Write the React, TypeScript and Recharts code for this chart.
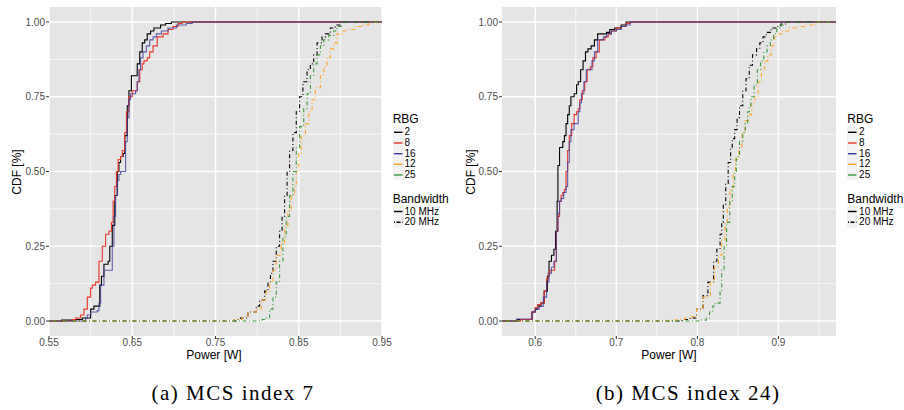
import React from "react";
import { LineChart, Line, XAxis, YAxis, CartesianGrid } from "recharts";

type Pt = [number, number];

// ---- (a) MCS index 7 : ECDF steps [power W, cdf] ----
const mcs7Rbg2_10: Pt[] = [
  [0.55, 0], [0.565, 0.003], [0.58, 0.005], [0.59, 0.01], [0.6, 0.04], [0.604, 0.05],
  [0.611, 0.12], [0.613, 0.15], [0.616, 0.19], [0.621, 0.2], [0.623, 0.25], [0.626, 0.32],
  [0.629, 0.42], [0.632, 0.5], [0.634, 0.53], [0.636, 0.55], [0.639, 0.56], [0.641, 0.62],
  [0.644, 0.72], [0.646, 0.77], [0.649, 0.82], [0.656, 0.86], [0.659, 0.9], [0.662, 0.93],
  [0.665, 0.94], [0.668, 0.96], [0.672, 0.97], [0.676, 0.98], [0.684, 0.99], [0.69, 0.995],
  [0.697, 1], [0.95, 1],
];
const mcs7Rbg8_10: Pt[] = [
  [0.55, 0], [0.578, 0.005], [0.582, 0.01], [0.588, 0.02], [0.592, 0.04], [0.596, 0.08],
  [0.6, 0.11], [0.602, 0.12], [0.606, 0.13], [0.61, 0.2], [0.614, 0.25], [0.618, 0.29],
  [0.622, 0.3], [0.625, 0.33], [0.627, 0.4], [0.629, 0.45], [0.631, 0.5], [0.633, 0.54],
  [0.636, 0.55], [0.638, 0.57], [0.641, 0.63], [0.643, 0.7], [0.646, 0.75], [0.65, 0.77],
  [0.656, 0.8], [0.659, 0.84], [0.662, 0.86], [0.664, 0.87], [0.668, 0.88], [0.671, 0.9],
  [0.675, 0.92], [0.68, 0.95], [0.687, 0.96], [0.693, 0.975], [0.699, 0.985], [0.705, 0.995],
  [0.71, 1], [0.95, 1],
];
const mcs7Rbg16_10: Pt[] = [
  [0.55, 0], [0.594, 0.01], [0.596, 0.02], [0.6, 0.03], [0.608, 0.035], [0.61, 0.06],
  [0.612, 0.12], [0.616, 0.17], [0.626, 0.25], [0.628, 0.35], [0.63, 0.42], [0.632, 0.47],
  [0.634, 0.49], [0.636, 0.5], [0.642, 0.6], [0.644, 0.68], [0.646, 0.74], [0.648, 0.76],
  [0.654, 0.77], [0.656, 0.8], [0.658, 0.84], [0.66, 0.88], [0.663, 0.9], [0.667, 0.92],
  [0.671, 0.94], [0.675, 0.95], [0.679, 0.96], [0.685, 0.97], [0.693, 0.98], [0.703, 0.99],
  [0.715, 0.995], [0.722, 1], [0.95, 1],
];
const mcs7Rbg2_20: Pt[] = [
  [0.55, 0], [0.776, 0.005], [0.78, 0.01], [0.789, 0.03], [0.799, 0.05], [0.803, 0.07],
  [0.809, 0.1], [0.813, 0.13], [0.816, 0.16], [0.819, 0.2], [0.823, 0.25], [0.827, 0.3],
  [0.83, 0.35], [0.833, 0.42], [0.836, 0.5], [0.839, 0.57], [0.843, 0.63], [0.847, 0.7],
  [0.851, 0.75], [0.855, 0.8], [0.86, 0.84], [0.864, 0.86], [0.868, 0.89], [0.872, 0.93],
  [0.878, 0.95], [0.882, 0.96], [0.888, 0.98], [0.894, 0.99], [0.9, 1], [0.95, 1],
];
const mcs7Rbg12_20: Pt[] = [
  [0.55, 0], [0.772, 0.005], [0.782, 0.015], [0.789, 0.03], [0.799, 0.04], [0.805, 0.07],
  [0.811, 0.1], [0.815, 0.13], [0.819, 0.17], [0.823, 0.22], [0.829, 0.26], [0.833, 0.32],
  [0.837, 0.37], [0.841, 0.42], [0.845, 0.45], [0.847, 0.5], [0.85, 0.56], [0.853, 0.62],
  [0.858, 0.66], [0.862, 0.7], [0.866, 0.74], [0.87, 0.78], [0.876, 0.82], [0.88, 0.85],
  [0.884, 0.88], [0.888, 0.91], [0.892, 0.93], [0.896, 0.96], [0.902, 0.97], [0.908, 0.975],
  [0.918, 0.985], [0.926, 0.99], [0.934, 1], [0.95, 1],
];
const mcs7Rbg25_20: Pt[] = [
  [0.55, 0], [0.806, 0.005], [0.811, 0.01], [0.815, 0.04], [0.819, 0.08], [0.823, 0.13],
  [0.827, 0.2], [0.831, 0.28], [0.835, 0.35], [0.839, 0.42], [0.843, 0.5], [0.847, 0.58],
  [0.851, 0.65], [0.856, 0.71], [0.86, 0.76], [0.864, 0.82], [0.868, 0.86], [0.872, 0.89],
  [0.876, 0.92], [0.88, 0.94], [0.886, 0.955], [0.892, 0.97], [0.896, 0.985], [0.901, 1],
  [0.95, 1],
];

// ---- (b) MCS index 24 ----
const mcs24Rbg2_10: Pt[] = [
  [0.559, 0], [0.578, 0.005], [0.596, 0.03], [0.6, 0.04], [0.603, 0.05], [0.607, 0.06],
  [0.611, 0.1], [0.615, 0.15], [0.617, 0.2], [0.62, 0.22], [0.623, 0.24], [0.625, 0.3],
  [0.627, 0.4], [0.628, 0.52], [0.63, 0.58], [0.634, 0.6], [0.636, 0.62], [0.638, 0.66],
  [0.64, 0.69], [0.642, 0.72], [0.644, 0.75], [0.648, 0.76], [0.651, 0.79], [0.653, 0.8],
  [0.656, 0.84], [0.659, 0.87], [0.662, 0.9], [0.665, 0.91], [0.669, 0.92], [0.673, 0.94],
  [0.677, 0.96], [0.688, 0.965], [0.692, 0.975], [0.698, 0.98], [0.706, 0.99], [0.712, 1],
  [0.971, 1],
];
const mcs24Rbg8_10: Pt[] = [
  [0.559, 0], [0.582, 0.005], [0.596, 0.03], [0.6, 0.045], [0.603, 0.055], [0.607, 0.06],
  [0.611, 0.1], [0.614, 0.14], [0.616, 0.16], [0.618, 0.17], [0.624, 0.2], [0.626, 0.3],
  [0.628, 0.35], [0.63, 0.4], [0.632, 0.42], [0.634, 0.43], [0.636, 0.44], [0.638, 0.5],
  [0.64, 0.57], [0.642, 0.62], [0.645, 0.66], [0.648, 0.69], [0.651, 0.7], [0.653, 0.71],
  [0.655, 0.74], [0.658, 0.77], [0.661, 0.8], [0.664, 0.84], [0.668, 0.85], [0.671, 0.88],
  [0.675, 0.9], [0.679, 0.94], [0.686, 0.95], [0.69, 0.96], [0.694, 0.97], [0.7, 0.98],
  [0.706, 0.985], [0.712, 0.995], [0.717, 1], [0.971, 1],
];
const mcs24Rbg16_10: Pt[] = [
  [0.559, 0], [0.577, 0.007], [0.596, 0.03], [0.6, 0.04], [0.605, 0.05], [0.61, 0.08],
  [0.614, 0.13], [0.617, 0.16], [0.62, 0.18], [0.623, 0.2], [0.626, 0.3], [0.628, 0.36],
  [0.63, 0.4], [0.632, 0.41], [0.635, 0.43], [0.638, 0.45], [0.64, 0.53], [0.642, 0.6],
  [0.644, 0.64], [0.648, 0.66], [0.653, 0.7], [0.655, 0.73], [0.657, 0.76], [0.66, 0.8],
  [0.663, 0.84], [0.67, 0.87], [0.673, 0.9], [0.677, 0.94], [0.684, 0.95], [0.688, 0.96],
  [0.694, 0.97], [0.7, 0.975], [0.706, 0.985], [0.712, 0.99], [0.717, 1], [0.971, 1],
];
const mcs24Rbg2_20: Pt[] = [
  [0.559, 0], [0.781, 0.005], [0.791, 0.01], [0.799, 0.04], [0.807, 0.085], [0.813, 0.13],
  [0.82, 0.2], [0.824, 0.24], [0.828, 0.29], [0.83, 0.33], [0.832, 0.39], [0.835, 0.46],
  [0.838, 0.53], [0.841, 0.58], [0.843, 0.61], [0.846, 0.64], [0.849, 0.68], [0.852, 0.72],
  [0.856, 0.77], [0.86, 0.81], [0.864, 0.855], [0.868, 0.89], [0.873, 0.91], [0.877, 0.93],
  [0.881, 0.95], [0.885, 0.965], [0.891, 0.98], [0.897, 0.985], [0.903, 0.993], [0.911, 1],
  [0.971, 1],
];
const mcs24Rbg12_20: Pt[] = [
  [0.559, 0], [0.766, 0.003], [0.775, 0.006], [0.785, 0.01], [0.791, 0.015], [0.799, 0.04],
  [0.807, 0.08], [0.816, 0.13], [0.821, 0.18], [0.826, 0.22], [0.83, 0.27], [0.834, 0.33],
  [0.837, 0.38], [0.84, 0.44], [0.844, 0.5], [0.847, 0.54], [0.851, 0.58], [0.855, 0.63],
  [0.859, 0.67], [0.863, 0.69], [0.867, 0.73], [0.871, 0.75], [0.875, 0.8], [0.879, 0.84],
  [0.883, 0.87], [0.887, 0.89], [0.891, 0.92], [0.895, 0.95], [0.899, 0.96], [0.905, 0.97],
  [0.913, 0.98], [0.922, 0.985], [0.932, 0.99], [0.946, 1], [0.971, 1],
];
const mcs24Rbg25_20: Pt[] = [
  [0.559, 0], [0.805, 0.003], [0.811, 0.01], [0.815, 0.03], [0.819, 0.05], [0.822, 0.06],
  [0.828, 0.1], [0.83, 0.17], [0.833, 0.25], [0.836, 0.33], [0.84, 0.4], [0.843, 0.45],
  [0.846, 0.5], [0.848, 0.55], [0.852, 0.6], [0.856, 0.63], [0.859, 0.66], [0.862, 0.7],
  [0.864, 0.72], [0.866, 0.75], [0.87, 0.79], [0.874, 0.84], [0.878, 0.87], [0.882, 0.9],
  [0.886, 0.92], [0.89, 0.94], [0.894, 0.96], [0.898, 0.98], [0.902, 0.99], [0.906, 1],
  [0.971, 1],
];

// axes
const Y_TICKS = [0, 0.25, 0.5, 0.75, 1];
const Y_MINOR = [0.125, 0.375, 0.625, 0.875];
const X7_DOMAIN: [number, number] = [0.55, 0.95];
const X7_TICKS = [0.55, 0.65, 0.75, 0.85, 0.95];
const X7_MINOR = [0.6, 0.7, 0.8, 0.9];
const X24_DOMAIN: [number, number] = [0.559, 0.971];
const X24_TICKS = [0.6, 0.7, 0.8, 0.9];
const X24_MINOR = [0.65, 0.75, 0.85, 0.95];

// legend
const RBG_LABELS = ["2", "8", "16", "12", "25"];
const RBG_COLORS = ["#000000", "#EB3327", "#3B3B9E", "#FFA526", "#3A9A3A"];
const BW_LABELS = ["10 MHz", "20 MHz"];

const DOTDASH = "1 2.5 4 2.5";
const FONT = '"Liberation Sans", Arial, Helvetica, sans-serif';

const toPoints = (pts: Pt[]) => pts.map(([x, y]) => ({ x, y }));

interface Series {
  key: string;
  pts: Pt[];
  color: string;
  dash?: string;
  opacity?: number;
}

const mcs7Series: Series[] = [
  { key: "2-10", pts: mcs7Rbg2_10, color: RBG_COLORS[0] },
  { key: "8-10", pts: mcs7Rbg8_10, color: RBG_COLORS[1] },
  { key: "16-10", pts: mcs7Rbg16_10, color: RBG_COLORS[2], opacity: 0.8 },
  { key: "2-20", pts: mcs7Rbg2_20, color: RBG_COLORS[0], dash: DOTDASH },
  { key: "12-20", pts: mcs7Rbg12_20, color: RBG_COLORS[3], dash: DOTDASH },
  { key: "25-20", pts: mcs7Rbg25_20, color: RBG_COLORS[4], dash: DOTDASH },
];

const mcs24Series: Series[] = [
  { key: "2-10", pts: mcs24Rbg2_10, color: RBG_COLORS[0] },
  { key: "8-10", pts: mcs24Rbg8_10, color: RBG_COLORS[1] },
  { key: "16-10", pts: mcs24Rbg16_10, color: RBG_COLORS[2], opacity: 0.8 },
  { key: "2-20", pts: mcs24Rbg2_20, color: RBG_COLORS[0], dash: DOTDASH },
  { key: "12-20", pts: mcs24Rbg12_20, color: RBG_COLORS[3], dash: DOTDASH },
  { key: "25-20", pts: mcs24Rbg25_20, color: RBG_COLORS[4], dash: DOTDASH },
];

interface PanelProps {
  left: number;
  width: number;
  yAxisWidth: number;
  xDomain: [number, number];
  xTicks: number[];
  xMinor: number[];
  xDigits: number;
  series: Series[];
}

function Panel({ left, width, yAxisWidth, xDomain, xTicks, xMinor, xDigits, series }: PanelProps) {
  const tick = { fontSize: 10, fill: "#4D4D4D", fontFamily: FONT };
  return (
    <div style={{ position: "absolute", left, top: 0 }}>
      <LineChart width={width + 12} height={360} margin={{ top: 7, right: 12, bottom: 0, left: 0 }}>
        <CartesianGrid
          fill="#E5E5E5"
          stroke="#FFFFFF"
          strokeWidth={0.7}
          horizontalValues={Y_MINOR}
          verticalValues={xMinor}
        />
        <CartesianGrid stroke="#FFFFFF" strokeWidth={1.4} horizontalValues={Y_TICKS} verticalValues={xTicks} />
        <XAxis
          type="number"
          dataKey="x"
          domain={xDomain}
          ticks={xTicks}
          allowDataOverflow
          height={24}
          tick={tick}
          tickSize={3}
          tickMargin={0}
          tickLine={{ stroke: "#333333" }}
          axisLine={false}
          tickFormatter={(v: number) => v.toFixed(xDigits)}
        />
        <YAxis
          type="number"
          dataKey="y"
          domain={[-0.05, 1.05]}
          ticks={Y_TICKS}
          allowDataOverflow
          width={yAxisWidth}
          tick={tick}
          tickSize={3}
          tickMargin={1}
          tickLine={{ stroke: "#333333" }}
          axisLine={false}
          tickFormatter={(v: number) => v.toFixed(2)}
        />
        {series.map((s) => (
          <Line
            key={s.key}
            data={toPoints(s.pts)}
            dataKey="y"
            type="stepAfter"
            stroke={s.color}
            strokeWidth={1.1}
            strokeOpacity={s.opacity ?? 1}
            strokeDasharray={s.dash}
            dot={false}
            activeDot={false}
            isAnimationActive={false}
          />
        ))}
      </LineChart>
    </div>
  );
}

function Legend({ left }: { left: number }) {
  const rbgY = [132.3, 143, 153.7, 164.3, 175];
  const bwY = [211.5, 222.3];
  const abs = (x: number, y: number, size: number, text: string, color = "#000") => (
    <div
      key={text + y}
      style={{
        position: "absolute",
        left: x,
        top: y,
        transform: "translateY(-50%)",
        fontSize: size,
        lineHeight: 1,
        fontFamily: FONT,
        color,
        whiteSpace: "nowrap",
      }}
    >
      {text}
    </div>
  );
  return (
    <>
      {abs(left, 119.3, 12, "RBG")}
      <svg style={{ position: "absolute", left, top: 0, overflow: "visible" }} width={12} height={230}>
        {rbgY.map((y, i) => (
          <g key={RBG_LABELS[i]}>
            <rect x={0} y={y - 5.3} width={11} height={10.6} fill="#F2F2F2" />
            <line x1={1} x2={9.5} y1={y} y2={y} stroke={RBG_COLORS[i]} strokeWidth={1.4} />
          </g>
        ))}
        {bwY.map((y, i) => (
          <g key={BW_LABELS[i]}>
            <rect x={0} y={y - 5.3} width={11} height={10.6} fill="#F2F2F2" />
            <line
              x1={1}
              x2={9.5}
              y1={y}
              y2={y}
              stroke="#000"
              strokeWidth={1.4}
              strokeDasharray={i === 1 ? "1 1.5 4 1.5" : undefined}
            />
          </g>
        ))}
      </svg>
      {RBG_LABELS.map((l, i) => abs(left + 11.8, rbgY[i], 10, l))}
      {abs(left, 199.3, 12, "Bandwidth")}
      {BW_LABELS.map((l, i) => abs(left + 11.8, bwY[i], 10, l))}
    </>
  );
}

function Label({ cx, cy, text, rotate, size, serif, spacing }: {
  cx: number; cy: number; text: string; rotate?: boolean; size: number; serif?: boolean; spacing?: number;
}) {
  return (
    <div
      style={{
        position: "absolute",
        left: cx,
        top: cy,
        transform: `translate(-50%, -50%)${rotate ? " rotate(-90deg)" : ""}`,
        fontSize: size,
        lineHeight: 1,
        fontFamily: serif ? '"Liberation Serif", "Times New Roman", serif' : FONT,
        letterSpacing: spacing ?? 0,
        whiteSpace: "nowrap",
        color: "#000",
      }}
    >
      {text}
    </div>
  );
}

export default function App() {
  return (
    <div
      style={{
        position: "absolute",
        left: 0,
        top: 0,
        width: 904,
        height: 410,
        background: "#fff",
        overflow: "hidden",
      }}
    >
      <Panel
        left={0}
        width={382}
        yAxisWidth={49}
        xDomain={X7_DOMAIN}
        xTicks={X7_TICKS}
        xMinor={X7_MINOR}
        xDigits={2}
        series={mcs7Series}
      />
      <Panel
        left={452}
        width={384}
        yAxisWidth={50}
        xDomain={X24_DOMAIN}
        xTicks={X24_TICKS}
        xMinor={X24_MINOR}
        xDigits={1}
        series={mcs24Series}
      />
      <Legend left={392.7} />
      <Legend left={847.3} />
      <Label cx={214} cy={355} text="Power [W]" size={12} />
      <Label cx={669} cy={355} text="Power [W]" size={12} />
      <Label cx={16.7} cy={171.7} text="CDF [%]" size={12} rotate />
      <Label cx={471.3} cy={171.7} text="CDF [%]" size={12} rotate />
      <Label cx={233} cy={393} text="(a) MCS index 7" size={21} serif spacing={1.5} />
      <Label cx={688} cy={393} text="(b) MCS index 24)" size={21} serif spacing={1.5} />
    </div>
  );
}
